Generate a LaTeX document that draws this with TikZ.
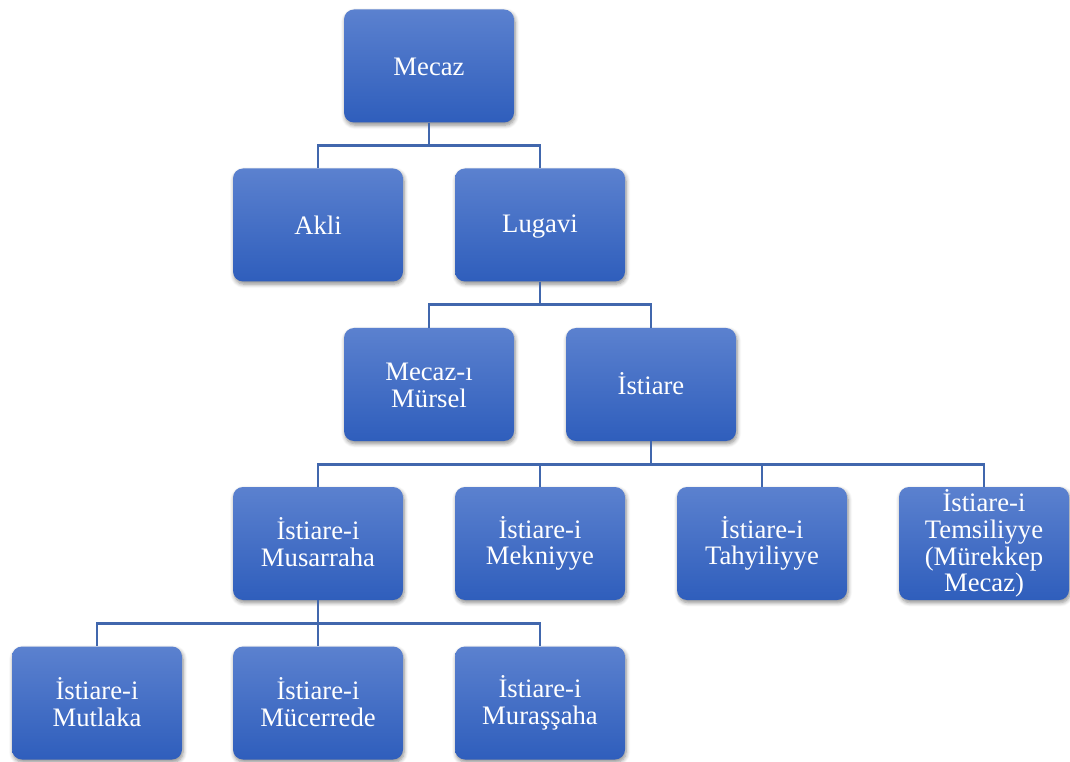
\documentclass[tikz,border=0pt]{standalone}
\usepackage{fontspec}
\setmainfont{Liberation Serif}
\usetikzlibrary{shadows.blur}
\definecolor{boxtop}{HTML}{5B81CF}
\definecolor{boxbot}{HTML}{2F5EBC}
\definecolor{linkblue}{HTML}{4167AD}
% label font with fixed line spacing
\newcommand{\boxfont}{\fontsize{20}{20}\selectfont\lineskiplimit=-30pt\relax\lineskip=0pt\relax}
% fixed-height line strut so every label sits at the same baseline
\newcommand{\ls}{\rule[-2pt]{0pt}{18pt}}
\begin{document}
\begin{tikzpicture}[x=0.75pt,y=-0.75pt,
  box/.style={rectangle, rounded corners=7.5pt, minimum width=127.5pt, minimum height=84.75pt,
    inner sep=0pt, top color=boxtop, bottom color=boxbot, draw=none, text=white,
    align=center, font=\boxfont,
    blur shadow={shadow xshift=0.8pt, shadow yshift=-2pt, shadow blur steps=6, shadow opacity=45, shadow blur radius=3pt}},
  link/.style={draw=linkblue, line width=2pt}]
\useasboundingbox (0,0) rectangle (1070,762);
% row 1
\node[box] (mecaz) at (429,66) {\ls Mecaz};
% row 2
\node[box] (akli) at (318,225) {\ls Akli};
\node[box] (lugavi) at (540,225) {\ls Lugavi};
% row 3
\node[box] (mursel) at (429,384.5) {\ls Mecaz-ı\\\ls Mürsel};
\node[box] (istiare) at (651,384.5) {\ls İstiare};
% row 4
\node[box] (musarraha) at (318,543.5) {\ls İstiare-i\\\ls Musarraha};
\node[box] (mekniyye) at (540,543.5) {\ls İstiare-i\\\ls Mekniyye};
\node[box] (tahyiliyye) at (762,543.5) {\ls İstiare-i\\\ls Tahyiliyye};
\node[box] (temsiliyye) at (984,543.5) {\ls İstiare-i\\\ls Temsiliyye\\\ls (Mürekkep\\\ls Mecaz)};
% row 5
\node[box] (mutlaka) at (97,703) {\ls İstiare-i\\\ls Mutlaka};
\node[box] (mucerrede) at (318,703) {\ls İstiare-i\\\ls Mücerrede};
\node[box] (murassaha) at (540,703) {\ls İstiare-i\\\ls Muraşşaha};
% elbow connectors from each parent to its children
\begin{scope}[on background layer/.try]
\foreach \p/\c in {mecaz/akli, mecaz/lugavi, lugavi/mursel, lugavi/istiare,
  istiare/musarraha, istiare/mekniyye, istiare/tahyiliyye, istiare/temsiliyye,
  musarraha/mutlaka, musarraha/mucerrede, musarraha/murassaha}
  \draw[link] (\p.south) -- ++(0,23) -| (\c.north);
\end{scope}
\end{tikzpicture}
\end{document}
